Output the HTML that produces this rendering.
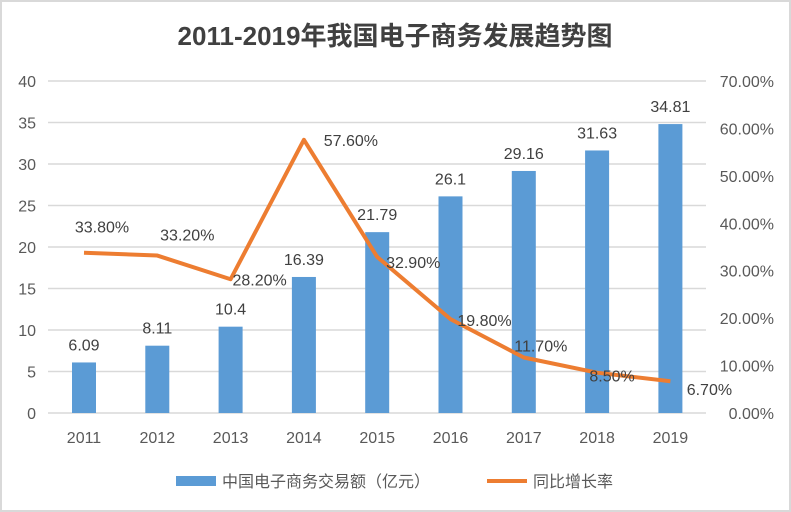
<!DOCTYPE html>
<html><head><meta charset="utf-8"><style>
body{margin:0;background:#fff;}
svg{display:block;font-family:"Liberation Sans","Noto Sans CJK SC",sans-serif;}
</style></head><body>
<svg id="c" width="791" height="512">
<rect x="1" y="1" width="789" height="510" fill="#fff" stroke="#d9d9d9" stroke-width="2"/>
<text x="395" y="45" text-anchor="middle" font-size="26" font-weight="bold" fill="#404040">2011-2019年我国电子商务发展趋势图</text>
<g id="grid"></g><g id="bars"></g><g id="line"></g><g id="labels"></g>
<g>
<rect x="176" y="476" width="40" height="10" fill="#5B9BD5"/>
<text x="222" y="487" font-size="16" fill="#595959">中国电子商务交易额（亿元）</text>
<line x1="487" y1="481" x2="527" y2="481" stroke="#ED7D31" stroke-width="4"/>
<text x="533" y="487" font-size="16" fill="#595959">同比增长率</text>
</g>
</svg>
<script>
const years=["2011","2012","2013","2014","2015","2016","2017","2018","2019"];
const volume=[6.09,8.11,10.4,16.39,21.79,26.1,29.16,31.63,34.81];
const growth=[33.8,33.2,28.2,57.6,32.9,19.8,11.7,8.5,6.7];
const leftTicks=[0,5,10,15,20,25,30,35,40];
const rightTicks=[0,10,20,30,40,50,60,70];
const NS="http://www.w3.org/2000/svg";
const y0=413,yTop=81;
const yL=v=>y0-(y0-yTop)*v/40;
const yR=v=>y0-(y0-yTop)*v/70;
const xC=i=>84+i*73.3;
function mk(t,a,p){const e=document.createElementNS(NS,t);for(const k in a)e.setAttribute(k,a[k]);p.appendChild(e);return e;}
const grid=document.getElementById('grid'),bars=document.getElementById('bars'),line=document.getElementById('line'),labels=document.getElementById('labels');
leftTicks.forEach(v=>{
 const l=mk('line',{x1:48,x2:706,y1:yL(v),y2:yL(v),stroke:'#d9d9d9','stroke-width':1.5},grid);
 
 
 const t=mk('text',{x:36,y:yL(v)+6,'text-anchor':'end','font-size':16,fill:'#595959'},grid);
 t.textContent=v;
 
 
});
rightTicks.forEach(v=>{
 const t=mk('text',{x:774,y:yR(v)+6,'text-anchor':'end','font-size':16,fill:'#595959'},grid);
 t.textContent=v.toFixed(2)+'%';
 
 
});
years.forEach((y,i)=>{
 const b=mk('rect',{x:xC(i)-12,y:yL(volume[i]),width:24,height:y0-yL(volume[i]),fill:'#5B9BD5'},bars);
 
 
 const t=mk('text',{x:xC(i),y:yL(volume[i])-12,'text-anchor':'middle','font-size':16,fill:'#404040'},labels);
 t.textContent=volume[i];
 
 
 const xl=mk('text',{x:xC(i),y:443,'text-anchor':'middle','font-size':16,fill:'#595959'},grid);
 xl.textContent=y;
 
 
});
const pts=growth.map((g,i)=>xC(i)+','+yR(g)).join(' ');
const pl=mk('polyline',{points:pts,fill:'none',stroke:'#ED7D31','stroke-width':4,'stroke-linejoin':'round'},line);


const off=[[18,-26],[30,-21],[29,0],[47,0],[36,5],[34,1],[17,-12],[15,3],[39,8]];
growth.forEach((g,i)=>{
 const t=mk('text',{x:xC(i)+off[i][0],y:yR(g)+off[i][1]+6,'text-anchor':'middle','font-size':16,fill:'#404040'},labels);
 t.textContent=g.toFixed(2)+'%';
 
 
});
</script>
</body></html>
